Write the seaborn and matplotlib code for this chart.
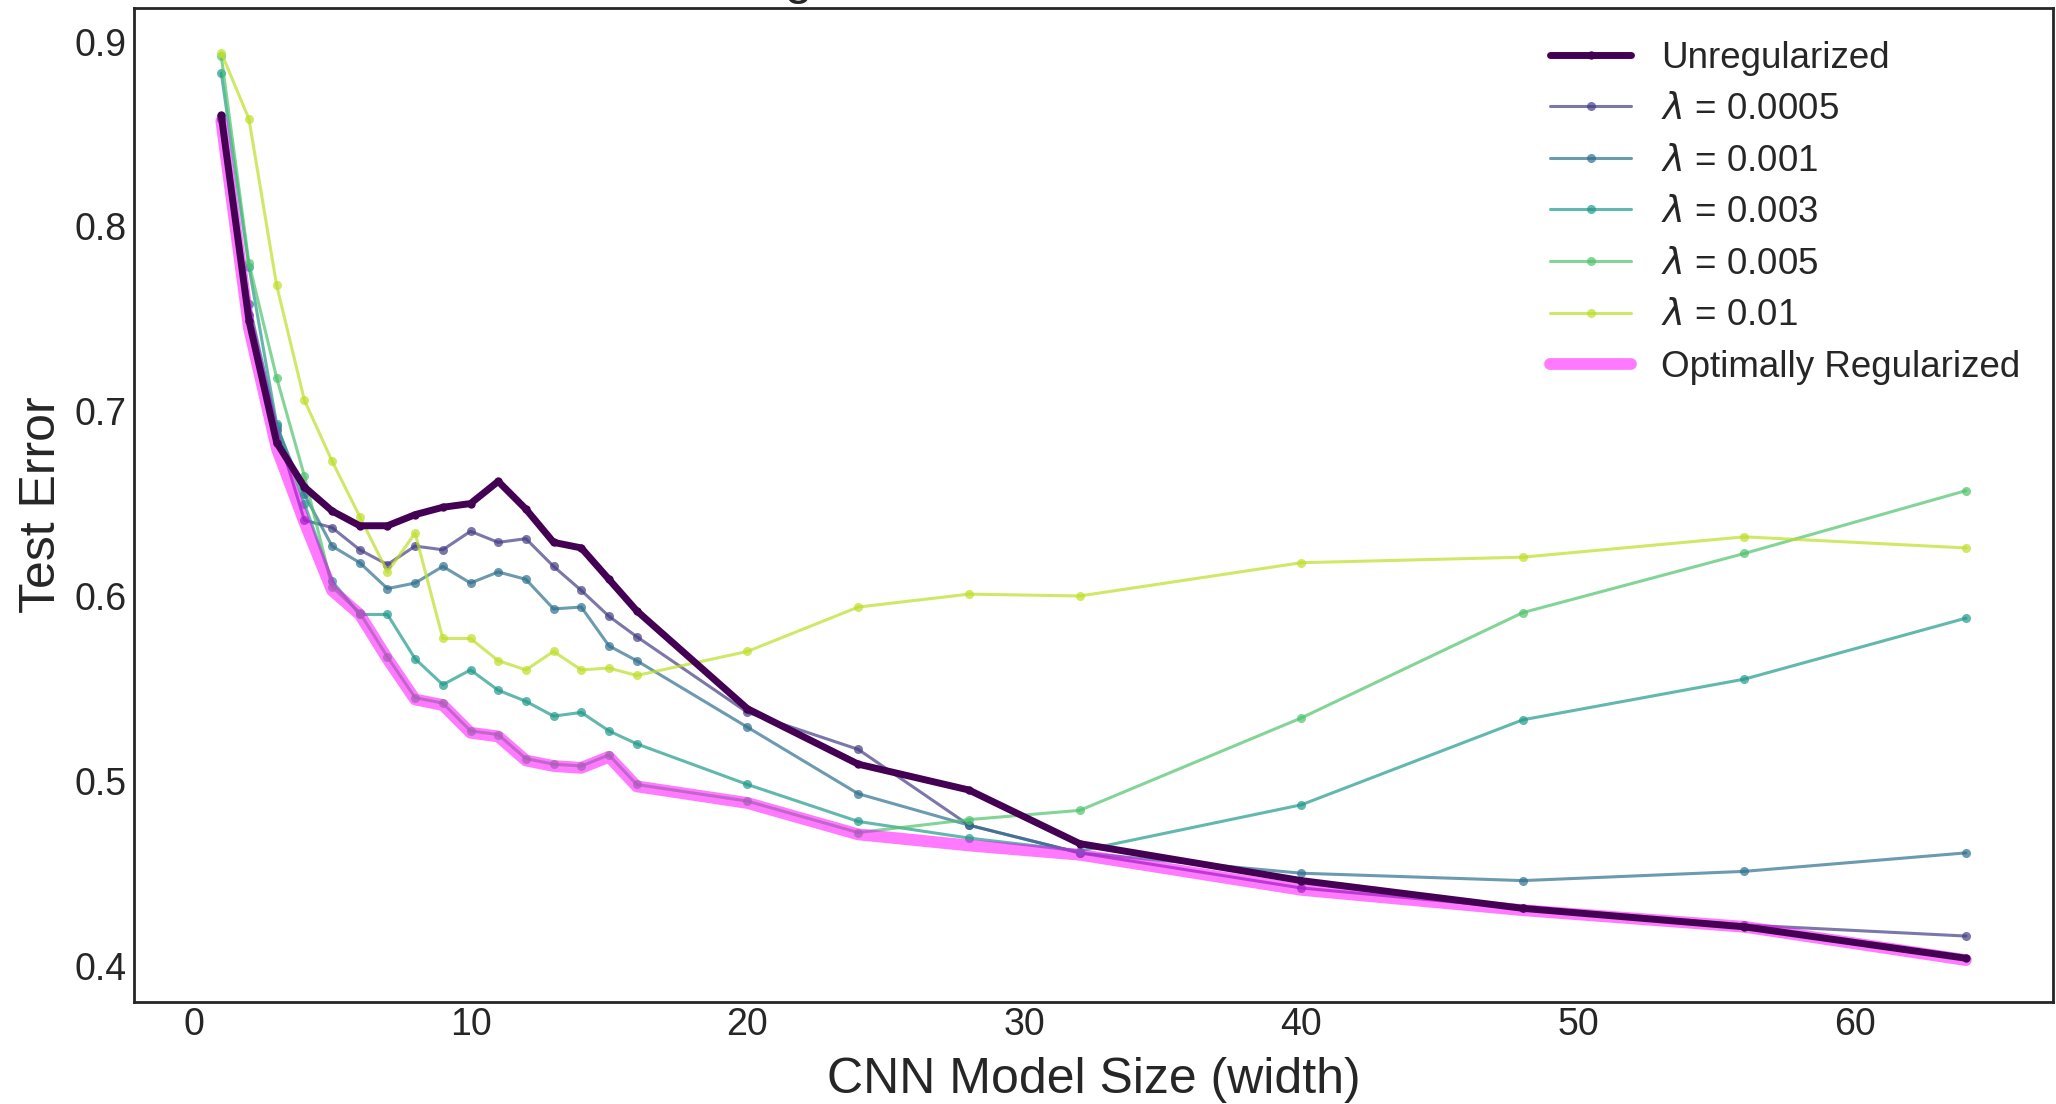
import numpy as np
import pandas as pd
import matplotlib
matplotlib.use("Agg")
import matplotlib.pyplot as plt
import seaborn as sns

# CNN width values on the x axis
widths = [1, 2, 3, 4, 5, 6, 7, 8, 9, 10, 11, 12, 13, 14, 15, 16, 20, 24, 28, 32, 40, 48, 56, 64]

unregularized = [0.860, 0.749, 0.683, 0.659, 0.646, 0.638, 0.638, 0.644, 0.648, 0.650, 0.662, 0.647,
                 0.629, 0.626, 0.609, 0.592, 0.539, 0.509, 0.495, 0.466, 0.446, 0.431, 0.421, 0.404]
lam_0005 = [0.858, 0.752, 0.690, 0.641, 0.637, 0.625, 0.617, 0.627, 0.625, 0.635, 0.629, 0.631,
            0.616, 0.603, 0.589, 0.578, 0.537, 0.517, 0.476, 0.461, 0.442, 0.431, 0.422, 0.416]
lam_001 = [0.859, 0.758, 0.692, 0.655, 0.627, 0.618, 0.604, 0.607, 0.616, 0.607, 0.613, 0.609,
           0.593, 0.594, 0.573, 0.565, 0.529, 0.493, 0.476, 0.461, 0.450, 0.446, 0.451, 0.461]
lam_003 = [0.883, 0.778, 0.693, 0.650, 0.608, 0.590, 0.590, 0.566, 0.552, 0.560, 0.549, 0.543,
           0.535, 0.537, 0.527, 0.520, 0.498, 0.478, 0.469, 0.462, 0.487, 0.533, 0.555, 0.588]
lam_005 = [0.892, 0.780, 0.718, 0.665, 0.605, 0.591, 0.567, 0.545, 0.542, 0.527, 0.525, 0.512,
           0.509, 0.508, 0.514, 0.498, 0.489, 0.472, 0.479, 0.484, 0.534, 0.591, 0.623, 0.657]
lam_01 = [0.894, 0.858, 0.768, 0.706, 0.673, 0.643, 0.613, 0.634, 0.577, 0.577, 0.565, 0.560,
          0.570, 0.560, 0.561, 0.557, 0.570, 0.594, 0.601, 0.600, 0.618, 0.621, 0.632, 0.626]
optimal = [0.857, 0.745, 0.680, 0.640, 0.603, 0.590, 0.566, 0.544, 0.541, 0.526, 0.524, 0.511,
           0.508, 0.507, 0.513, 0.497, 0.488, 0.471, 0.465, 0.460, 0.441, 0.430, 0.421, 0.403]

lambda_labels = ["0.0005", "0.001", "0.003", "0.005", "0.01"]
lambda_series = [lam_0005, lam_001, lam_003, lam_005, lam_01]

sns.set_style("white")
plt.rcParams['font.family'] = ['Liberation Sans', 'DejaVu Sans']

colors = plt.cm.viridis(np.linspace(0, 0.9, 6))

fig = plt.figure(figsize=(20.56, 11.04), dpi=100)
ax = fig.add_axes([0.0652, 0.0927, 0.9334, 0.9005])

sns.lineplot(x=widths, y=unregularized, ax=ax, color=colors[0], lw=5, marker="o", ms=6,
             mec=colors[0], mew=0, label="Unregularized", zorder=5)

for i, (lab, vals) in enumerate(zip(lambda_labels, lambda_series)):
    sns.lineplot(x=widths, y=vals, ax=ax, color=colors[i + 1], lw=2.2, alpha=0.7, marker="o",
                 ms=6.5, mec=colors[i + 1], mew=0, label=r"$\lambda$ = " + lab, zorder=2)

sns.lineplot(x=widths, y=optimal, ax=ax, color="magenta", lw=8.5, alpha=0.52,
             label="Optimally Regularized", zorder=4)

ax.set_xlim(-2.15, 67.15)
ax.set_ylim(0.3805, 0.9184)
ax.set_xticks([0, 10, 20, 30, 40, 50, 60])
ax.set_yticks([0.4, 0.5, 0.6, 0.7, 0.8, 0.9])
ax.tick_params(labelsize=27, length=0, colors="#262626")
ax.tick_params(axis="x", pad=4)
ax.tick_params(axis="y", pad=5.5)
for s in ax.spines.values():
    s.set_color("#262626")
    s.set_linewidth(2)

ax.set_xlabel("CNN Model Size (width)", fontsize=36, labelpad=10)
ax.set_ylabel("Test Error", fontsize=36, labelpad=7)
ax.set_title("Regularized CNNs on CIFAR-100", fontsize=36, pad=10)

ax.legend(loc="upper right", fontsize=26.5, frameon=False, handlelength=2.2, labelspacing=0.45)

fig.savefig("out.png", dpi=100)
